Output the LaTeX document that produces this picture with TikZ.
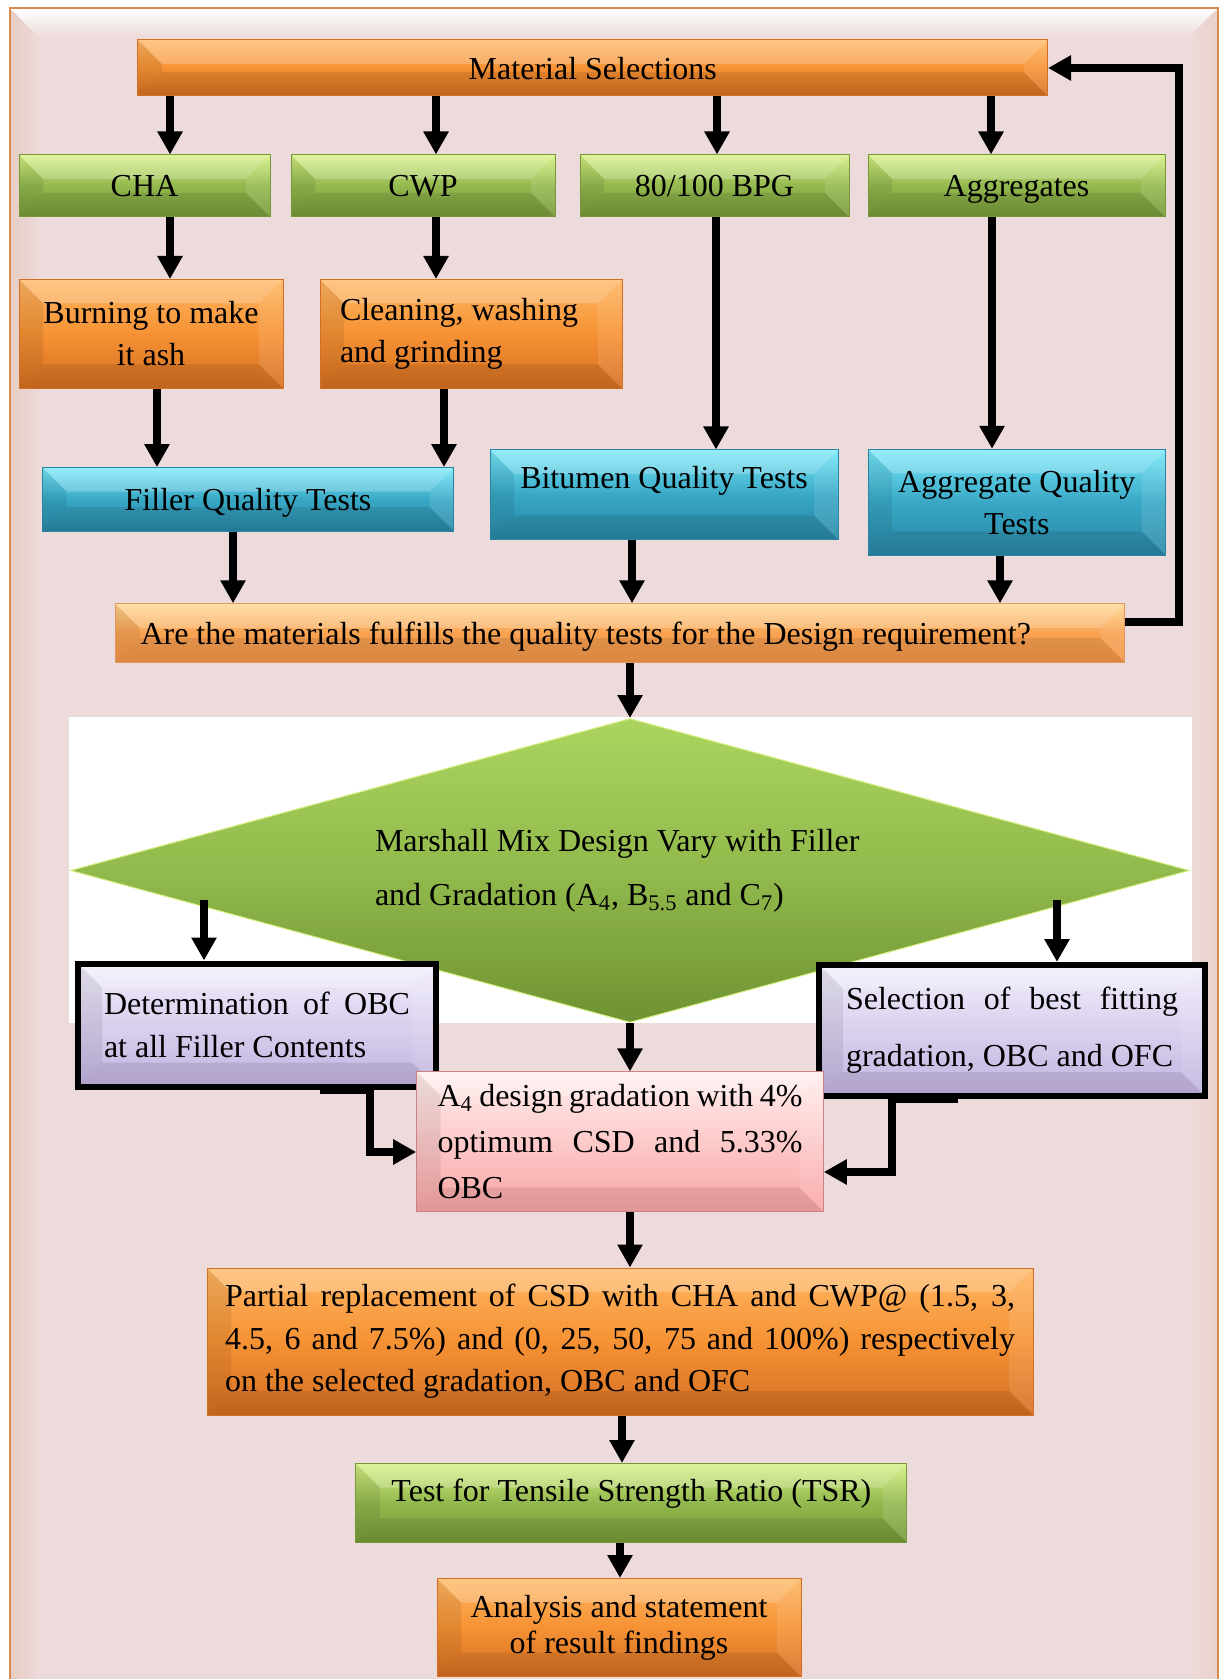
\documentclass[tikz,border=0pt]{standalone}
\usepackage{fontspec}
\setmainfont{Liberation Serif}
\usetikzlibrary{shapes.geometric,arrows.meta}

\definecolor{bgpink}{RGB}{237,218,218}
\definecolor{framebrown}{RGB}{214,140,80}
\definecolor{orgtop}{RGB}{255,182,98}
\definecolor{orgmid}{RGB}{246,146,52}
\definecolor{orgbot}{RGB}{212,110,34}
\definecolor{dectop}{RGB}{255,214,142}
\definecolor{decmid}{RGB}{248,162,82}
\definecolor{decbot}{RGB}{242,148,72}
\definecolor{grntop}{RGB}{214,240,130}
\definecolor{grnmid}{RGB}{146,184,78}
\definecolor{grnbot}{RGB}{118,152,56}
\definecolor{blutop}{RGB}{120,232,250}
\definecolor{blumid}{RGB}{56,168,198}
\definecolor{blubot}{RGB}{40,134,164}
\definecolor{lavtop}{RGB}{242,238,252}
\definecolor{lavbot}{RGB}{194,178,224}
\definecolor{pnktop}{RGB}{255,238,238}
\definecolor{pnkbot}{RGB}{250,165,165}

\tikzset{
  bevel/.style={path picture={
      \coordinate (bnw) at (path picture bounding box.north west);
      \coordinate (bse) at (path picture bounding box.south east);
      \coordinate (bne) at (bnw -| bse);
      \coordinate (bsw) at (bnw |- bse);
      \fill[white,opacity=.22] (bnw) -- (bne) -- ([shift={(-12pt,-12pt)}]bne) -- ([shift={(12pt,-12pt)}]bnw) -- cycle;
      \fill[black,opacity=.08] (bnw) -- (bsw) -- ([shift={(12pt,12pt)}]bsw) -- ([shift={(12pt,-12pt)}]bnw) -- cycle;
      \fill[white,opacity=.1] (bne) -- (bse) -- ([shift={(-12pt,12pt)}]bse) -- ([shift={(-12pt,-12pt)}]bne) -- cycle;
      \fill[black,opacity=.09] (bsw) -- (bse) -- ([shift={(-12pt,12pt)}]bse) -- ([shift={(12pt,12pt)}]bsw) -- cycle;
    }},
  box/.style={rectangle, inner sep=0pt, line width=.5pt, align=center,
    font=\fontsize{16}{21}\selectfont, bevel},
  orangebox/.style={box, draw=orgbot, top color=orgtop, bottom color=orgbot, middle color=orgmid},
  decbox/.style={box, draw=orgbot!70, top color=dectop, bottom color=decbot, middle color=decmid},
  greenbox/.style={box, draw=grnbot, top color=grntop, bottom color=grnbot, middle color=grnmid},
  bluebox/.style={box, draw=blubot, top color=blutop, bottom color=blubot, middle color=blumid},
  lavbox/.style={box, draw=black, line width=3pt, top color=lavtop, bottom color=lavbot},
  pinkbox/.style={box, draw=pnkbot!80!black, line width=.3pt, top color=pnktop, bottom color=pnkbot},
  mixshape/.style={diamond, aspect=3.68, inner sep=0pt, minimum width=559.5pt, minimum height=152pt,
    draw=grntop, line width=.5pt, top color={rgb,255:red,172;green,212;blue,96},
    bottom color={rgb,255:red,110;green,146;blue,50}, middle color={rgb,255:red,146;green,186;blue,76},
    text width=255pt, align=flush left, font=\fontsize{16}{27}\selectfont},
  arr/.style={line width=4.2pt, -{Triangle[width=12pt,length=11.5pt]}}
}

\begin{document}
\begin{tikzpicture}[x=0.5pt,y=-0.5pt]
  \useasboundingbox (0,0) rectangle (1221,1679);
  \clip (0,0) rectangle (1221,1679);

  % frame
  \fill[bgpink] (9.5,8.3) rectangle (1218,1700);
  \shade[top color=white, bottom color=bgpink] (9.5,8.3) -- (1218,8.3) -- (1188,38) -- (39.5,38) -- cycle;
  \shade[left color=bgpink!85!brown, right color=bgpink] (9.5,8.3) -- (39.5,38) -- (39.5,1700) -- (9.5,1700) -- cycle;
  \shade[right color=bgpink!90!brown, left color=bgpink] (1218,8.3) -- (1188,38) -- (1188,1700) -- (1218,1700) -- cycle;
  \draw[framebrown, line width=1pt] (9.5,1700) -- (9.5,8.3) -- (1218,8.3) -- (1218,1700);
  \fill[white] (69,716.7) rectangle (1192,1023.3);

  \node[orangebox, minimum width=454.8pt, minimum height=28pt, text depth=0pt] at (592.7,68) (ms) {Material Selections};

  \node[greenbox, minimum width=125.5pt, minimum height=31pt, text depth=0pt] at (144.5,186) (cha) {CHA};
  \node[greenbox, minimum width=132pt, minimum height=31pt, text depth=0pt] at (423,186) (cwp) {CWP};
  \node[greenbox, minimum width=134.5pt, minimum height=31pt, text depth=0pt] at (714.5,186) (bpg) {80/100 BPG};
  \node[greenbox, minimum width=148.5pt, minimum height=31pt, text depth=0pt] at (1016.5,186) (agg) {Aggregates};

  \node[orangebox, minimum width=132pt, minimum height=54.5pt] at (151,334) (burn) {Burning to make\\it ash};
  \node[orangebox, minimum width=151pt, minimum height=54.5pt, text width=131pt, align=flush left] at (471,334) (clean) {Cleaning, washing\\and grinding};

  \node[bluebox, minimum width=205.5pt, minimum height=31.7pt, text depth=0pt] at (248,499.3) (filler) {Filler Quality Tests};
  \node[bluebox, minimum width=174pt, minimum height=44.7pt, text height=19pt, text depth=25.6pt] at (664,494.7) (bit) {Bitumen Quality Tests};
  \node[bluebox, minimum width=148.8pt, minimum height=53pt] at (1016.8,502.3) (aqt) {Aggregate Quality\\Tests};

  \node[decbox, minimum width=504.5pt, minimum height=29.2pt, text width=479.5pt, align=flush left, text depth=0pt] at (620,633) (dec)
    {Are the materials fulfills the quality tests for the Design requirement?};

  \node[mixshape] at (630,870.5) (mix)
    {Marshall Mix Design Vary with Filler\\and Gradation (A\textsubscript{4}, B\textsubscript{5.5} and C\textsubscript{7})};
  \coordinate (mixl) at (204,900);
  \coordinate (mixr) at (1057,900);

  \node[lavbox, minimum width=179pt, minimum height=61.5pt, text width=153pt, align=justify,
    font=\fontsize{16}{21.5}\selectfont] at (257,1025) (det) {Determination of OBC\linebreak at all Filler Contents};
  \node[lavbox, minimum width=193pt, minimum height=65.5pt, text width=166pt, align=justify,
    font=\fontsize{16}{28.5}\selectfont] at (1012,1030.5) (sel) {Selection of best fitting\linebreak gradation, OBC and OFC};
  \node[pinkbox, minimum width=203.5pt, minimum height=70pt, text width=182.5pt, align=justify,
    font=\fontsize{16}{23}\selectfont] at (620,1141.7) (a4)
    {A\textsubscript{4} design gradation with 4\%\linebreak optimum CSD and 5.33\%\linebreak OBC};

  \node[orangebox, minimum width=413pt, minimum height=73.5pt, text width=395pt, align=justify,
    font=\fontsize{16}{21.25}\selectfont] at (620,1341.5) (part)
    {Partial replacement of CSD with CHA and CWP@ (1.5, 3,\linebreak 4.5, 6 and 7.5\%) and (0, 25, 50, 75 and 100\%) respectively\linebreak on the selected gradation, OBC and OFC};
  \node[greenbox, minimum width=275.5pt, minimum height=39.5pt, text height=19.2pt, text depth=20.3pt] at (631.4,1503) (tsr)
    {Test for Tensile Strength Ratio (TSR)};
  \node[orangebox, minimum width=182pt, minimum height=49pt, font=\fontsize{16}{18}\selectfont] at (619,1627.5) (ana)
    {Analysis and statement\\of result findings};

  \coordinate (fb) at (1179,68);

  \draw[arr] (ms.south -| 170,0) -- (cha.north -| 170,0);
  \draw[arr] (ms.south -| 436,0) -- (cwp.north -| 436,0);
  \draw[arr] (ms.south -| 717,0) -- (bpg.north -| 717,0);
  \draw[arr] (ms.south -| 991,0) -- (agg.north -| 991,0);
  \draw[arr] (cha.south -| 170,0) -- (burn.north -| 170,0);
  \draw[arr] (cwp.south -| 436,0) -- (clean.north -| 436,0);
  \draw[arr] (burn.south -| 157,0) -- (filler.north -| 157,0);
  \draw[arr] (clean.south -| 444,0) -- (filler.north -| 444,0);
  \draw[arr] (bpg.south -| 716,0) -- (bit.north -| 716,0);
  \draw[arr] (agg.south -| 992,0) -- (aqt.north -| 992,0);
  \draw[arr] (filler.south -| 233,0) -- (dec.north -| 233,0);
  \draw[arr] (bit.south -| 632,0) -- (dec.north -| 632,0);
  \draw[arr] (aqt.south -| 1000,0) -- (dec.north -| 1000,0);
  \draw[arr] (dec.east |- 0,622) -| (fb) -- (ms.east);
  \draw[arr] (dec.south -| mix.north) -- (mix.north);
  \draw[arr] (mixl) -- (det.north -| mixl);
  \draw[arr] (mixr) -- (sel.north -| mixr);
  \draw[arr] (mix.south) -- (a4.north -| mix.south);
  \draw[arr] (det.south -| 320,0) -- (det.south -| 370,0) |- (a4.west |- 0,1152);
  \draw[arr] (sel.south -| 958,0) -- (sel.south -| 892,0) |- (a4.east |- 0,1172);
  \draw[arr] (a4.south -| 630,0) -- (part.north -| 630,0);
  \draw[arr] (part.south -| 622,0) -- (tsr.north -| 622,0);
  \draw[arr] (tsr.south -| 620,0) -- (ana.north -| 620,0);
\end{tikzpicture}
\end{document}
